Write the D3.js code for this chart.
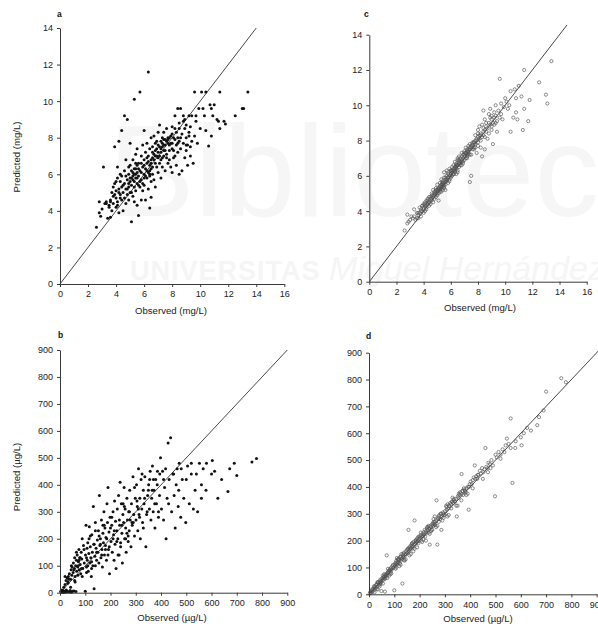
<!DOCTYPE html>
<html>
<head>
<meta charset="utf-8">
<script src="https://cdn.jsdelivr.net/npm/d3@7"></script>
<style>
  html, body { margin: 0; padding: 0; background: #fff; }
  svg { display: block; }
  text { font-family: "Liberation Sans", Arial, Helvetica, sans-serif; }
</style>
</head>
<body>
<svg id="chart" width="598" height="628"></svg>
<script>
// ---------------- DATA ----------------
// mg/L panels (a: model 1, c: model 2) share observed values
const obsMg = [
  2.6,2.8,2.8,2.9,3.0,3.1,3.2,3.3,3.4,3.5,
  3.6,3.6,3.7,3.7,3.8,3.8,3.9,3.9,4.0,4.0,4.0,4.1,4.1,4.1,4.2,4.2,4.2,4.3,4.3,4.3,4.4,4.4,4.4,4.5,4.5,
  4.6,4.6,4.6,4.7,4.7,4.7,4.8,4.8,4.8,4.9,4.9,4.9,5.0,5.0,5.0,5.0,5.1,5.1,5.1,5.2,5.2,5.2,5.3,5.3,5.3,5.3,5.4,5.4,5.4,5.4,5.5,5.5,5.5,5.5,5.5,
  5.6,5.6,5.6,5.7,5.7,5.7,5.8,5.8,5.8,5.9,5.9,5.9,6.0,6.0,6.0,6.0,6.1,6.1,6.1,6.2,6.2,6.2,6.3,6.3,6.3,6.3,6.4,6.4,6.4,6.4,6.5,6.5,6.5,6.5,6.5,
  6.6,6.6,6.6,6.7,6.7,6.7,6.8,6.8,6.8,6.9,6.9,6.9,7.0,7.0,7.0,7.1,7.1,7.1,7.2,7.2,7.2,7.3,7.3,7.3,7.4,7.4,7.4,7.5,7.5,7.5,
  7.6,7.6,7.7,7.7,7.8,7.8,7.9,7.9,8.0,8.0,8.0,8.1,8.1,8.2,8.2,8.2,8.3,8.3,8.3,8.4,8.4,8.4,8.5,8.5,8.5,
  8.6,8.6,8.7,8.7,8.8,8.8,8.9,8.9,9.0,9.0,9.0,9.1,9.1,9.2,9.2,9.3,9.3,9.4,9.4,9.5,
  9.6,9.6,9.7,9.8,9.9,10.0,10.1,10.2,10.4,10.4,
  10.6,10.7,10.8,10.9,11.0,11.3,11.4,11.4,
  11.8,11.7,12.5,13.0,13.1,13.4,
  3.3,3.5,3.6,3.8,3.9,4.0,4.1,4.2,4.3,4.4,4.5,4.6,4.7,4.8,4.9,5.0,5.1,5.2,5.3,5.4,
  5.5,5.6,5.7,5.8,5.9,6.0,6.1,6.2,6.3,6.4,5.2,5.4,5.6,5.8,6.0,6.2,6.4,4.9,5.1,5.3,
  6.5,6.6,6.7,6.8,6.9,7.0,7.1,7.2,7.3,7.4,7.5,7.6,7.7,7.8,7.9,8.0,6.6,6.8,7.0,7.2,
  7.4,7.6,7.8,8.0,8.2,8.4,8.6,8.8,9.0,9.2,7.3,7.7,8.1,8.5,8.9,9.3,9.7,10.3,10.8,11.2
];
const predMgA = [
  3.1,3.9,4.5,3.7,4.1,6.4,4.4,4.5,3.6,4.3,
  3.65,4.6,4.0,5.0,4.4,4.8,7.5,5.5,4.2,5.1,4.7,6.4,5.8,4.5,5.2,7.8,3.9,4.9,5.6,6.0,4.6,5.3,8.4,4.0,5.0,
  9.2,5.5,6.2,4.4,5.2,6.8,9.0,4.9,5.7,5.3,6.0,4.6,5.0,6.5,5.8,7.7,3.4,5.4,6.2,4.8,5.9,6.8,10.1,5.6,6.3,4.5,5.1,6.0,7.1,5.8,4.3,6.5,5.5,7.4,6.1,
  3.75,5.9,6.6,10.5,5.3,6.2,7.0,5.7,4.6,6.4,5.1,7.6,6.0,6.8,5.4,8.4,6.3,4.6,7.2,5.8,6.6,7.7,11.6,6.1,5.2,7.0,4.15,6.5,7.4,5.9,6.8,8.0,5.6,6.3,4.75,
  6.9,7.5,6.0,7.1,8.1,5.7,6.6,7.3,5.3,7.8,6.4,7.0,6.9,8.3,6.1,7.5,6.6,8.7,7.2,5.8,7.8,6.9,8.0,6.4,7.6,7.0,8.3,6.2,7.3,7.9,
  7.1,8.5,6.6,7.7,6.8,7.6,8.1,6.4,7.7,6.1,8.6,7.3,6.9,7.9,9.2,7.0,8.3,6.5,7.6,8.0,9.6,7.2,8.5,6.0,7.8,
  9.6,7.4,8.2,6.2,9.2,7.7,8.5,6.9,8.0,7.3,8.7,6.5,7.6,9.2,8.3,7.0,8.6,7.8,9.2,6.6,
  10.5,8.1,8.9,7.7,9.6,8.5,10.5,9.6,10.5,8.4,
  7.55,9.8,8.1,9.2,9.8,8.9,10.5,8.5,
  8.75,8.9,9.2,9.6,9.6,10.5,
  4.4,4.2,4.5,5.3,4.9,5.6,4.3,5.0,4.7,5.9,5.4,4.7,5.9,5.2,6.4,5.6,5.0,6.1,5.3,6.6,
  5.8,6.3,5.6,6.1,5.5,6.5,5.9,6.2,6.7,6.0,5.7,6.3,5.4,6.6,5.8,6.9,6.2,5.5,5.8,6.0,
  6.6,7.2,6.8,7.0,7.4,7.6,7.0,7.4,7.7,7.3,7.6,7.8,8.0,7.3,7.7,8.2,6.4,7.7,7.2,6.8,
  7.9,6.9,8.0,7.4,8.5,7.7,8.0,8.9,7.6,8.1,7.5,7.9,8.0,8.8,9.0,7.5,9.2,9.2,9.6,9.0
];
const predMgC = [
  2.9,3.3,3.8,3.4,3.5,3.7,3.6,4.1,3.5,3.9,
  3.8,3.6,4.2,3.9,4.1,3.7,4.3,4.0,4.4,3.9,4.2,4.5,4.0,4.3,4.6,4.2,4.1,4.5,4.4,4.7,4.3,4.8,4.5,4.4,4.7,
  4.9,4.6,5.0,4.8,4.5,5.2,4.9,5.1,4.7,5.0,5.3,4.8,5.2,5.5,4.9,5.1,4.6,5.3,5.0,5.4,5.6,5.2,5.5,5.3,5.8,5.1,5.5,5.2,5.7,5.4,5.3,5.9,5.6,5.4,6.2,
  5.2,5.8,5.5,6.0,5.7,6.3,5.9,6.1,5.6,6.0,5.8,6.4,6.2,5.9,6.1,6.3,6.0,6.5,6.2,6.4,6.1,6.6,6.3,6.5,6.2,6.8,6.4,6.1,6.7,6.5,6.3,6.9,6.6,7.0,6.2,
  6.8,6.5,7.1,6.7,7.0,6.6,6.9,7.3,6.8,7.0,7.2,6.7,7.1,7.4,6.9,7.0,7.3,7.6,7.2,7.5,7.1,7.4,7.7,7.3,7.5,5.65,7.8,7.2,6.0,7.6,
  7.7,7.5,7.9,7.6,8.3,7.8,7.3,8.0,8.2,7.7,8.6,8.1,8.8,8.0,7.6,8.4,8.2,7.1,8.9,8.5,9.7,8.3,7.5,8.6,9.2,
  8.8,9.0,8.1,8.7,9.5,8.4,9.8,8.9,9.2,8.6,9.4,9.0,7.8,9.6,8.9,9.4,10.0,9.1,8.5,9.7,
  11.5,9.3,10.1,9.2,9.9,10.4,10.2,9.8,8.5,10.8,
  9.3,10.9,9.6,9.2,11.1,8.6,12.0,9.8,
  10.3,9.1,11.3,10.6,10.1,12.5,
  3.7,3.6,3.9,4.0,4.3,4.1,4.4,4.3,4.6,4.5,4.8,4.7,4.9,5.0,5.2,5.0,5.3,5.1,5.4,5.6,
  5.5,5.9,5.8,6.2,5.7,6.0,6.3,6.1,6.4,6.6,5.3,5.6,5.7,5.9,6.3,6.3,6.6,5.1,5.2,5.5,
  6.6,6.9,6.8,7.1,6.8,7.2,7.3,7.0,7.5,7.6,7.7,7.9,7.5,8.0,8.1,7.9,6.7,6.6,7.3,7.4,
  7.2,7.8,7.6,8.4,8.3,8.7,8.5,9.0,8.8,9.3,7.2,7.9,8.3,8.2,9.3,9.0,9.5,10.0,10.4,10.5
];

// µg/L panels (b: model 1, d: model 2) share observed values
const obsUg = [
  3,5,8,10,12,14,15,18,20,22,24,25,28,30,32,33,35,37,40,42,44,45,47,48,49,
  52,53,55,57,58,60,62,63,65,66,68,70,71,73,75,76,78,80,82,84,86,88,90,93,96,
  100,101,103,105,107,108,110,112,114,116,118,120,122,124,126,128,130,132,134,135,138,140,143,145,148,
  150,152,154,156,158,160,162,164,166,168,170,172,174,176,178,180,182,184,186,188,190,192,194,196,198,
  202,205,207,210,212,214,216,218,220,222,225,227,229,232,234,236,238,240,243,245,247,249,
  252,254,256,258,260,262,265,267,270,272,274,276,278,281,283,286,289,292,295,298,
  301,303,306,308,311,313,316,318,321,324,327,330,333,336,340,343,347,
  351,354,357,360,363,366,369,372,376,379,382,386,390,394,398,
  402,406,410,414,418,420,424,428,432,438,442,447,
  452,456,460,464,468,472,478,484,490,498,
  505,512,520,528,535,545,552,560,567,578,
  603,612,625,665,672,690,700,760,778,
  20,35,45,55,65,75,85,95,105,115,125,135,145,155,165,175,185,195,205,215,
  225,235,245,255,265,275,285,295,305,315,325,335,345,355,365,375,385,395,110,160,
  60,80,120,140,170,190,210,230,250,270,290,310,330,350,370,390,410,430,450,470,
  480,500,520,540,560,580,600,640,31,42,58,72,88,105,125,140,180,200,240,260
];
const predUgB = [
  5,2,10,3,8,1,20,5,30,2,45,10,55,4,40,60,3,70,8,50,85,2,65,95,5,
  75,110,6,90,130,60,100,4,120,80,140,95,65,115,160,85,130,105,70,150,125,200,90,175,110,
  5,140,250,95,165,120,185,80,145,245,110,170,130,60,215,150,100,320,180,15,135,260,165,120,195,
  150,230,110,360,175,200,130,270,160,95,220,185,300,140,240,175,205,120,330,260,390,160,225,70,280,
  190,250,150,300,215,120,340,180,265,90,230,310,200,360,140,250,410,185,330,220,110,290,
  260,390,200,310,240,150,350,270,190,300,230,380,270,170,330,250,430,290,210,350,
  270,400,320,230,460,290,350,200,420,310,260,380,330,430,170,290,360,
  400,310,450,270,350,470,300,380,240,420,330,450,280,360,500,
  310,450,270,390,460,200,350,555,420,575,300,440,
  360,240,400,460,320,480,280,420,350,260,
  470,330,440,310,380,300,480,350,460,380,
  490,450,350,375,460,480,435,485,498,
  60,50,100,85,150,120,90,160,130,200,115,180,150,210,140,250,200,170,280,230,
  190,270,250,320,220,300,260,390,340,280,440,350,300,420,380,330,400,440,100,180,
  40,130,210,100,250,140,200,140,330,210,260,310,240,380,420,300,420,330,440,380,
  460,420,480,440,400,480,440,420,35,20,45,100,60,75,90,230,160,240,170,200
];
const predUgD = [
  3,8,5,12,18,10,20,15,25,8,30,22,35,28,38,45,18,42,35,48,40,55,50,45,12,
  60,52,40,62,55,65,58,10,72,68,75,145,70,80,78,85,82,90,88,95,85,100,92,105,98,
  15,110,105,115,100,125,112,118,130,120,128,135,115,140,125,150,132,40,138,145,155,140,148,160,150,
  165,155,170,240,160,175,168,180,172,185,178,190,175,195,185,275,188,200,192,205,195,210,198,215,205,
  210,220,200,215,225,218,230,222,240,215,235,228,245,238,250,230,245,185,255,250,240,260,
  265,255,270,262,290,258,275,350,185,280,285,270,295,280,300,240,290,305,300,295,
  310,300,325,315,335,320,330,328,340,335,345,360,340,350,345,355,290,
  365,360,370,380,375,448,385,370,390,385,380,395,400,315,410,
  420,410,425,435,480,430,440,430,445,460,450,470,
  455,465,545,475,470,490,485,500,480,365,
  510,530,520,540,530,580,560,655,415,545,
  555,600,620,630,660,685,755,805,790,
  30,45,38,70,60,95,75,110,95,130,110,150,130,170,150,160,200,190,230,205,
  200,255,235,280,250,290,300,285,330,295,320,355,330,375,350,395,370,400,135,145,
  75,70,105,125,190,175,195,250,240,255,275,290,345,330,385,375,395,445,430,455,
  470,520,505,555,545,570,585,610,20,30,65,60,78,118,140,128,170,215,225,270
];

// tick labels
const ticksMgX = [0, 2, 4, 6, 8, 10, 12, 14, 16];
const ticksMgY = [0, 2, 4, 6, 8, 10, 12, 14];
const ticksUg  = [0, 100, 200, 300, 400, 500, 600, 700, 800, 900];

const panelLetters = ["a", "b", "c", "d"];
const xTitles = ["Observed (mg/L)", "Observed (\u00b5g/L)"];
const yTitles = ["Predicted (mg/L)", "Predicted (\u00b5g/L)"];

// ---------------- CHECK ----------------
[[obsMg, predMgA, "a"], [obsMg, predMgC, "c"], [obsUg, predUgB, "b"], [obsUg, predUgD, "d"]].forEach(([o, p, n]) => {
  if (o.length !== p.length) throw new Error("length mismatch panel " + n + ": " + o.length + " vs " + p.length);
});

// ---------------- DRAW ----------------
const svg = d3.select("#chart");

// very faint library watermark behind the charts
const wm = svg.append("g").attr("pointer-events", "none");
wm.append("text").attr("x", 108).attr("y", 216)
  .attr("font-size", 130).attr("fill", "#f6f6f6").text("Biblioteca");
wm.append("text").attr("x", 130).attr("y", 280)
  .attr("font-size", 27).attr("font-weight", "bold").attr("letter-spacing", 1).attr("fill", "#f5f5f5")
  .text("UNIVERSITAS ")
  .append("tspan").attr("font-style", "italic").attr("font-weight", "normal").attr("font-size", 34).attr("letter-spacing", 0)
  .text("Miguel Hernández");

const AXIS = "#3a3a3a";
const TXT = "#222";

function panel(cfg) {
  const x = d3.scaleLinear().domain(cfg.xDomain).range(cfg.xRange);
  const y = d3.scaleLinear().domain(cfg.yDomain).range(cfg.yRange);
  const g = svg.append("g");

  // identity line
  g.append("line")
    .attr("x1", x(0)).attr("y1", y(0))
    .attr("x2", x(cfg.diag)).attr("y2", y(cfg.diag))
    .attr("stroke", "#333").attr("stroke-width", 0.9);

  // points
  const pts = cfg.obs.map((o, i) => [o, cfg.pred[i]]);
  const dots = g.append("g").selectAll("circle").data(pts).join("circle")
    .attr("cx", d => x(d[0])).attr("cy", d => y(d[1]));
  if (cfg.filled) {
    dots.attr("r", 1.5).attr("fill", "#111");
  } else {
    dots.attr("r", 1.6).attr("fill", "none").attr("stroke", "#505050").attr("stroke-width", 0.65);
  }

  // axes
  const xAxis = d3.axisBottom(x).tickValues(cfg.xTicks).tickSize(3).tickPadding(4).tickSizeOuter(0);
  const yAxis = d3.axisLeft(y).tickValues(cfg.yTicks).tickSize(3).tickPadding(4).tickSizeOuter(0);
  const gx = g.append("g").attr("transform", `translate(0,${cfg.yRange[0]})`).call(xAxis);
  const gy = g.append("g").attr("transform", `translate(${cfg.xRange[0]},0)`).call(yAxis);
  [gx, gy].forEach(a => {
    a.select(".domain").attr("stroke", AXIS).attr("stroke-width", 1);
    a.selectAll(".tick line").attr("stroke", AXIS).attr("stroke-width", 1);
    a.selectAll(".tick text").attr("fill", TXT).attr("font-size", 9)
      .attr("font-family", '"Liberation Sans", Arial, sans-serif');
  });

  // titles
  g.append("text").attr("x", cfg.xTitle[0]).attr("y", cfg.xTitle[1])
    .attr("text-anchor", "middle").attr("font-size", 9.6).attr("fill", TXT).text(cfg.xTitleText);
  if (cfg.yTitleText) {
    g.append("text")
      .attr("transform", `translate(${cfg.yTitle[0]},${cfg.yTitle[1]}) rotate(-90)`)
      .attr("text-anchor", "middle").attr("font-size", 9.6).attr("fill", TXT).text(cfg.yTitleText);
  }
  g.append("text").attr("x", cfg.letterPos[0]).attr("y", cfg.letterPos[1])
    .attr("font-size", 8.5).attr("font-weight", "bold").attr("fill", "#111").text(cfg.letter);
}

panel({
  letter: panelLetters[0], letterPos: [57, 17],
  xDomain: [0, 16], xRange: [60, 284.3], yDomain: [0, 14], yRange: [284, 28],
  xTicks: ticksMgX, yTicks: ticksMgY, diag: 14,
  obs: obsMg, pred: predMgA, filled: true,
  xTitleText: xTitles[0], xTitle: [171, 314],
  yTitleText: yTitles[0], yTitle: [20, 157]
});
panel({
  letter: panelLetters[2], letterPos: [364, 17],
  xDomain: [0, 16], xRange: [369.3, 586.7], yDomain: [0, 14], yRange: [281.7, 34.7],
  xTicks: ticksMgX, yTicks: ticksMgY, diag: 14.55,
  obs: obsMg, pred: predMgC, filled: false,
  xTitleText: xTitles[0], xTitle: [480, 311],
  yTitleText: null
});
panel({
  letter: panelLetters[1], letterPos: [58, 338],
  xDomain: [0, 900], xRange: [60, 287.3], yDomain: [0, 900], yRange: [592.7, 350],
  xTicks: ticksUg, yTicks: ticksUg, diag: 900,
  obs: obsUg, pred: predUgB, filled: true,
  xTitleText: xTitles[1], xTitle: [172, 621],
  yTitleText: yTitles[1], yTitle: [20, 477]
});
panel({
  letter: panelLetters[3], letterPos: [366, 339],
  xDomain: [0, 900], xRange: [369, 596.7], yDomain: [0, 900], yRange: [594.3, 352.7],
  xTicks: ticksUg, yTicks: ticksUg, diag: 915,
  obs: obsUg, pred: predUgD, filled: false,
  xTitleText: xTitles[1], xTitle: [478, 622],
  yTitleText: null
});
</script>
</body>
</html>
